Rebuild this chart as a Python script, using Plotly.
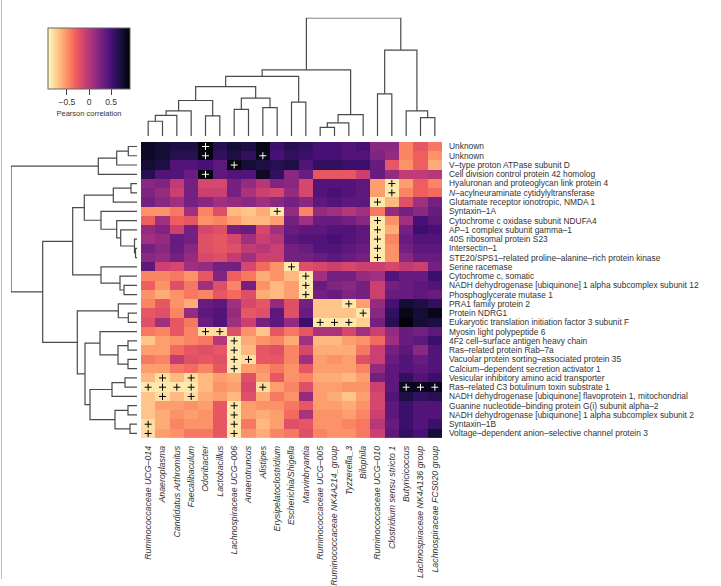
import plotly.graph_objects as go

col_labels = ["Ruminococcaceae UCG–014", "Anaeroplasma", "Candidatus Arthromitus", "Faecalibaculum",
              "Odoribacter", "Lactobacillus", "Lachnospiraceae UCG–006", "Anaerotruncus", "Alistipes",
              "Erysipelatoclostridium", "Escherichia/Shigella", "Marvinbryantia", "Ruminococcaceae UCG–005",
              "Ruminococcaceae NK4A214_group", "Tyzzerella_3", "Bilophila", "Ruminococcaceae UCG–010",
              "Clostridium sensu stricto 1", "Butyricicoccus", "Lachnospiraceae NK4A136 group",
              "Lachnospiraceae FCS020 group"]

row_labels = ["Unknown", "Unknown", "V–type proton ATPase subunit D", "Cell division control protein 42 homolog",
              "Hyaluronan and proteoglycan link protein 4", "<i>N</i>–acylneuraminate cytidylyltransferase",
              "Glutamate receptor ionotropic, NMDA 1", "Syntaxin–1A", "Cytochrome c oxidase subunit NDUFA4",
              "AP–1 complex subunit gamma–1", "40S ribosomal protein S23", "Intersectin–1",
              "STE20/SPS1–related proline–alanine–rich protein kinase", "Serine racemase", "Cytochrome c, somatic",
              "NADH dehydrogenase [ubiquinone] 1 alpha subcomplex subunit 12", "Phosphoglycerate mutase 1",
              "PRA1 family protein 2", "Protein NDRG1", "Eukaryotic translation initiation factor 3 subunit F",
              "Myosin light polypeptide 6", "4F2 cell–surface antigen heavy chain", "Ras–related protein Rab–7a",
              "Vacuolar protein sorting–associated protein 35", "Calcium–dependent secretion activator 1",
              "Vesicular inhibitory amino acid transporter", "Ras–related C3 botulinum toxin substrate 1",
              "NADH dehydrogenase [ubiquinone] flavoprotein 1, mitochondrial",
              "Guanine nucleotide–binding protein G(i) subunit alpha–2",
              "NADH dehydrogenase [ubiquinone] 1 alpha subcomplex subunit 2", "Syntaxin–1B",
              "Voltage–dependent anion–selective channel protein 3"]

corr = [
    [0.8, 0.75, 0.7, 0.7, 0.9, 0.65, 0.75, 0.7, 0.85, 0.55, 0.65, 0.6, 0.5, 0.5, 0.45, 0.5, 0.2, 0.2, -0.45, -0.25, -0.4],
    [0.8, 0.75, 0.65, 0.65, 0.9, 0.6, 0.7, 0.6, 0.85, 0.5, 0.6, 0.55, 0.5, 0.5, 0.45, 0.45, 0.25, 0.15, -0.45, -0.3, -0.5],
    [0.75, 0.7, 0.45, 0.45, 0.5, 0.4, 0.9, 0.75, 0.7, 0.65, 0.7, 0.45, 0.6, 0.6, 0.55, 0.55, 0.35, -0.25, -0.5, -0.3, -0.6],
    [0.65, 0.45, 0.45, 0.35, 0.9, 0.4, 0.45, 0.45, 0.8, 0.6, 0.2, 0.35, -0.25, -0.25, -0.25, -0.1, 0.35, 0.15, -0.05, -0.05, 0.0],
    [0.2, 0.25, -0.05, 0.3, -0.15, -0.15, 0.3, 0.15, 0.0, 0.25, 0.2, -0.15, 0.45, 0.45, 0.45, 0.4, -0.55, -0.85, -0.55, -0.3, -0.45],
    [0.25, 0.15, -0.1, 0.3, -0.1, -0.1, 0.3, 0.05, -0.1, -0.15, 0.15, -0.15, 0.45, 0.5, 0.45, 0.4, -0.55, -0.85, -0.45, -0.3, -0.35],
    [0.3, 0.2, 0.1, 0.3, 0.2, 0.1, 0.15, 0.2, 0.1, 0.2, 0.3, 0.2, 0.4, 0.45, 0.4, 0.4, -0.85, -0.65, -0.2, 0.1, 0.3],
    [-0.5, -0.5, -0.4, 0.1, -0.45, -0.2, -0.65, -0.7, -0.6, -0.85, 0.15, -0.45, 0.15, 0.1, 0.0, 0.1, -0.4, 0.15, 0.3, 0.2, 0.35],
    [-0.3, 0.1, -0.3, -0.25, -0.5, -0.45, -0.55, -0.65, -0.65, -0.55, 0.3, 0.1, 0.35, 0.35, 0.3, 0.2, -0.85, -0.5, 0.1, 0.5, 0.4],
    [0.15, 0.25, -0.1, 0.3, -0.15, -0.2, 0.3, 0.35, -0.15, 0.1, 0.35, 0.4, 0.4, 0.45, 0.45, 0.4, -0.85, -0.6, 0.3, 0.55, 0.5],
    [0.1, 0.15, 0.35, 0.3, -0.2, -0.25, -0.15, 0.1, -0.1, 0.0, 0.4, 0.45, 0.45, 0.5, 0.45, 0.4, -0.85, -0.45, 0.35, 0.45, 0.45],
    [0.3, 0.2, 0.35, 0.2, -0.2, -0.25, -0.2, -0.05, 0.0, -0.1, 0.3, 0.35, 0.45, 0.45, 0.4, 0.35, -0.85, -0.5, 0.3, 0.4, 0.4],
    [0.2, 0.15, 0.3, 0.15, -0.15, -0.2, -0.05, 0.1, -0.1, -0.1, 0.3, 0.3, 0.35, 0.4, 0.35, 0.3, -0.85, -0.5, 0.2, 0.35, 0.35],
    [0.4, -0.1, -0.15, 0.1, 0.15, 0.3, 0.3, -0.15, -0.35, -0.5, -0.85, -0.2, -0.15, -0.1, -0.15, -0.1, -0.1, -0.15, -0.05, -0.1, 0.3],
    [-0.45, -0.45, -0.4, -0.5, -0.25, 0.25, -0.3, -0.4, -0.6, -0.5, -0.65, -0.85, 0.1, 0.3, 0.3, 0.15, 0.1, 0.45, 0.35, 0.35, 0.55],
    [-0.3, -0.5, -0.2, -0.4, 0.1, -0.2, -0.45, 0.3, -0.5, -0.65, -0.55, -0.85, 0.35, 0.25, 0.2, 0.3, -0.1, 0.3, 0.35, 0.4, 0.45],
    [-0.5, -0.6, -0.5, -0.4, -0.45, -0.25, -0.35, -0.2, -0.6, -0.65, -0.55, -0.85, 0.3, 0.35, 0.25, 0.3, -0.1, 0.35, 0.35, 0.4, 0.35],
    [-0.45, -0.25, -0.5, -0.6, 0.35, 0.4, 0.1, -0.15, -0.25, 0.15, -0.2, 0.3, -0.7, -0.7, -0.85, -0.55, 0.15, 0.5, 0.75, 0.7, 0.6],
    [-0.25, -0.2, -0.45, 0.15, 0.4, 0.45, 0.15, -0.25, -0.2, 0.4, -0.2, 0.35, -0.7, -0.7, -0.7, -0.85, 0.2, 0.6, 0.85, 0.75, 0.85],
    [-0.2, 0.1, -0.25, -0.4, 0.35, 0.45, 0.1, -0.1, 0.3, 0.4, 0.15, 0.55, -0.85, -0.85, -0.85, -0.75, 0.3, 0.65, 0.9, 0.75, 0.7],
    [-0.4, -0.45, -0.25, -0.45, -0.8, -0.8, -0.2, -0.5, -0.7, -0.25, -0.4, -0.25, 0.05, 0.05, -0.15, 0.1, -0.1, 0.15, 0.35, 0.3, 0.4],
    [-0.7, -0.55, -0.5, -0.45, -0.4, 0.0, -0.85, -0.6, -0.5, -0.45, -0.6, 0.1, -0.65, -0.65, -0.55, -0.5, -0.35, 0.1, 0.35, 0.4, 0.55],
    [-0.55, -0.55, -0.35, -0.25, -0.2, -0.25, -0.85, -0.65, -0.25, -0.2, -0.45, -0.15, -0.6, -0.6, -0.6, -0.4, -0.1, 0.3, 0.4, 0.2, 0.45],
    [-0.4, -0.45, -0.05, -0.2, -0.25, -0.2, -0.85, -0.8, -0.25, -0.25, -0.45, 0.1, -0.55, -0.5, -0.55, -0.2, -0.1, 0.35, 0.45, 0.35, 0.45],
    [-0.55, -0.55, -0.4, -0.35, -0.45, -0.25, -0.85, -0.55, -0.5, -0.4, -0.5, -0.25, -0.55, -0.55, -0.55, -0.45, 0.15, 0.4, 0.45, 0.4, 0.45],
    [-0.65, -0.8, -0.65, -0.8, -0.65, -0.55, -0.6, -0.2, -0.55, -0.25, -0.5, -0.45, -0.6, -0.6, -0.65, -0.55, 0.3, 0.4, 0.6, 0.45, 0.55],
    [-0.85, -0.85, -0.85, -0.85, -0.65, -0.5, -0.55, -0.15, -0.8, -0.55, -0.45, -0.2, -0.55, -0.55, -0.5, -0.5, -0.1, 0.4, 0.85, 0.85, 0.85],
    [-0.7, -0.8, -0.65, -0.8, -0.6, -0.55, -0.65, -0.2, -0.6, -0.4, -0.5, 0.15, -0.55, -0.6, -0.7, -0.55, -0.15, 0.45, 0.7, 0.6, 0.65],
    [-0.7, -0.55, -0.55, -0.5, -0.55, -0.25, -0.85, -0.55, -0.5, -0.5, -0.4, -0.25, -0.55, -0.55, -0.6, -0.5, -0.15, 0.4, 0.55, 0.45, 0.45],
    [-0.7, -0.6, -0.5, -0.55, -0.5, -0.25, -0.85, -0.55, -0.6, -0.55, -0.35, 0.05, -0.5, -0.5, -0.55, -0.45, -0.1, 0.4, 0.55, 0.45, 0.45],
    [-0.8, -0.6, -0.45, -0.5, -0.5, -0.25, -0.85, -0.4, -0.65, -0.55, -0.2, -0.25, -0.5, -0.5, -0.45, -0.4, 0.0, 0.35, 0.55, 0.45, 0.55],
    [-0.8, -0.55, -0.5, -0.4, -0.4, -0.25, -0.85, -0.5, -0.6, -0.45, -0.4, -0.2, -0.45, -0.5, -0.5, -0.4, -0.1, 0.4, 0.6, 0.5, 0.75],
]

# significant cells (row, column)
sig = [(0, 4), (1, 4), (1, 8), (2, 6), (3, 4), (4, 17), (5, 17), (6, 16), (7, 9), (8, 16), (9, 16),
       (10, 16), (11, 16), (12, 16), (13, 10), (14, 11), (15, 11), (16, 11), (17, 14), (18, 15),
       (19, 12), (19, 13), (19, 14), (20, 4), (20, 5), (21, 6), (22, 6), (23, 6), (23, 7), (24, 6),
       (25, 1), (25, 3), (26, 0), (26, 1), (26, 2), (26, 3), (26, 8), (26, 18), (26, 19), (26, 20),
       (27, 1), (27, 3), (28, 6), (29, 6), (30, 0), (30, 6), (31, 0), (31, 6)]

# column dendrogram merges: (cluster a, cluster b, height); new clusters numbered from 21
col_merges = [(0, 1, 15.3), (21, 2, 21.3), (22, 3, 25.7), (4, 5, 20.7), (23, 24, 36.3),
              (6, 7, 27.3), (8, 9, 29.0), (26, 27, 38.7), (25, 28, 50.3), (10, 11, 34.7),
              (29, 30, 60.7), (12, 13, 9.0), (32, 14, 13.7), (33, 15, 22.0), (31, 34, 67.3),
              (16, 17, 43.0), (19, 20, 19.0), (18, 37, 25.7), (36, 38, 87.3), (35, 39, 120.0)]

# row dendrogram merges; new clusters numbered from 32
row_merges = [(0, 1, 8.7), (32, 2, 20.3), (33, 3, 38.7), (4, 5, 6.0), (35, 6, 23.7),
              (11, 12, 1.5), (10, 37, 2.5), (9, 38, 16.3), (8, 39, 20.3), (7, 40, 36.0),
              (36, 41, 52.7), (15, 16, 13.0), (14, 43, 17.0), (13, 44, 36.0), (42, 45, 64.3),
              (18, 19, 8.7), (17, 47, 18.7), (21, 22, 9.0), (23, 24, 9.0), (49, 50, 19.0),
              (20, 51, 37.0), (25, 26, 12.0), (53, 27, 25.0), (28, 29, 9.0), (30, 31, 7.0),
              (55, 56, 22.0), (54, 57, 47.0), (52, 58, 52.0), (48, 59, 59.7), (46, 60, 94.3),
              (34, 61, 126.0)]


def dendro(merges, n):
    pos = {i: float(i) for i in range(n)}
    hgt = {i: 0.0 for i in range(n)}
    p, h = [], []
    for k, (a, b, hh) in enumerate(merges):
        p += [pos[a], pos[a], pos[b], pos[b], None]
        h += [hgt[a], hh, hh, hgt[b], None]
        pos[n + k] = (pos[a] + pos[b]) / 2
        hgt[n + k] = hh
    return p, h


W, H = 721, 586
FONT = "Liberation Sans, Arial, sans-serif"
TXT = "#333333"
LINE = "#4a4a4a"

hx0, hx1 = 141 / W, 442 / W
hy0, hy1 = 1 - 443.4 / H, 1 - 143.6 / H

fig = go.Figure()

fig.add_trace(go.Heatmap(
    z=corr, x=list(range(len(col_labels))), y=list(range(len(row_labels))),
    colorscale="magma_r", zmin=-0.93, zmax=0.93, hoverinfo="skip",
    colorbar=dict(orientation="h", x=89 / W, xanchor="center", y=1 - 28.3 / H, yanchor="top",
                  len=82, lenmode="pixels", thickness=61, thicknessmode="pixels",
                  xpad=0, ypad=0, outlinewidth=1, outlinecolor="#666",
                  tickvals=[-0.5, 0, 0.5], ticktext=["−0.5", "0", "0.5"],
                  ticks="outside", ticklen=6, tickcolor="#444",
                  tickfont=dict(family=FONT, size=8.5, color=TXT),
                  title=dict(text="Pearson correlation", side="bottom",
                             font=dict(family=FONT, size=7.5, color=TXT))),
    xaxis="x", yaxis="y"))

sx = [c for r, c in sig]
sy = [r for r, c in sig]
scol = ["white" if corr[r][c] > 0 else "black" for r, c in sig]
fig.add_trace(go.Scatter(x=sx, y=sy, mode="markers", hoverinfo="skip", showlegend=False,
                         marker=dict(symbol="cross-thin", size=5, color=scol,
                                     line=dict(width=1, color=scol)),
                         xaxis="x", yaxis="y"))

cp, ch = dendro(col_merges, len(col_labels))
fig.add_trace(go.Scatter(x=cp, y=ch, mode="lines", line=dict(color=LINE, width=1.2),
                         hoverinfo="skip", showlegend=False, xaxis="x2", yaxis="y2"))

rp, rh = dendro(row_merges, len(row_labels))
fig.add_trace(go.Scatter(x=rh, y=rp, mode="lines", line=dict(color=LINE, width=1.2),
                         hoverinfo="skip", showlegend=False, xaxis="x3", yaxis="y3"))

col_text = ["<i>%s</i>" % s for s in col_labels]

fig.update_layout(
    width=W, height=H, margin=dict(l=0, r=0, t=0, b=0),
    paper_bgcolor="white", plot_bgcolor="white", showlegend=False,
    font=dict(family=FONT, color=TXT),
    xaxis=dict(domain=[hx0, hx1], range=[-0.5, 20.5], tickvals=list(range(len(col_labels))),
               ticktext=col_text, tickangle=-90, ticks="", showgrid=False, zeroline=False,
               showline=False, ticklabelstandoff=5, tickfont=dict(family=FONT, size=8.8, color=TXT),
               anchor="y"),
    yaxis=dict(domain=[hy0, hy1], range=[31.5, -0.5], tickvals=list(range(len(row_labels))),
               ticktext=row_labels, side="right", ticks="", showgrid=False, zeroline=False,
               showline=False, ticklabelstandoff=6, tickfont=dict(family=FONT, size=8.4, color=TXT),
               anchor="x"),
    xaxis2=dict(domain=[hx0, hx1], range=[-0.5, 20.5], visible=False, anchor="y2"),
    yaxis2=dict(domain=[1 - 138 / H, 1 - 18 / H], range=[0, 120], visible=False, anchor="x2"),
    xaxis3=dict(domain=[11 / W, 137 / W], range=[126, 0], visible=False, anchor="y3"),
    yaxis3=dict(domain=[hy0, hy1], range=[31.5, -0.5], visible=False, anchor="x3"),
    shapes=[dict(type="line", xref="paper", yref="paper", x0=1.5 / W, x1=1.5 / W, y0=0, y1=1,
                 line=dict(color="#bbbbbb", width=1))],
)

fig.write_html("out.html")
